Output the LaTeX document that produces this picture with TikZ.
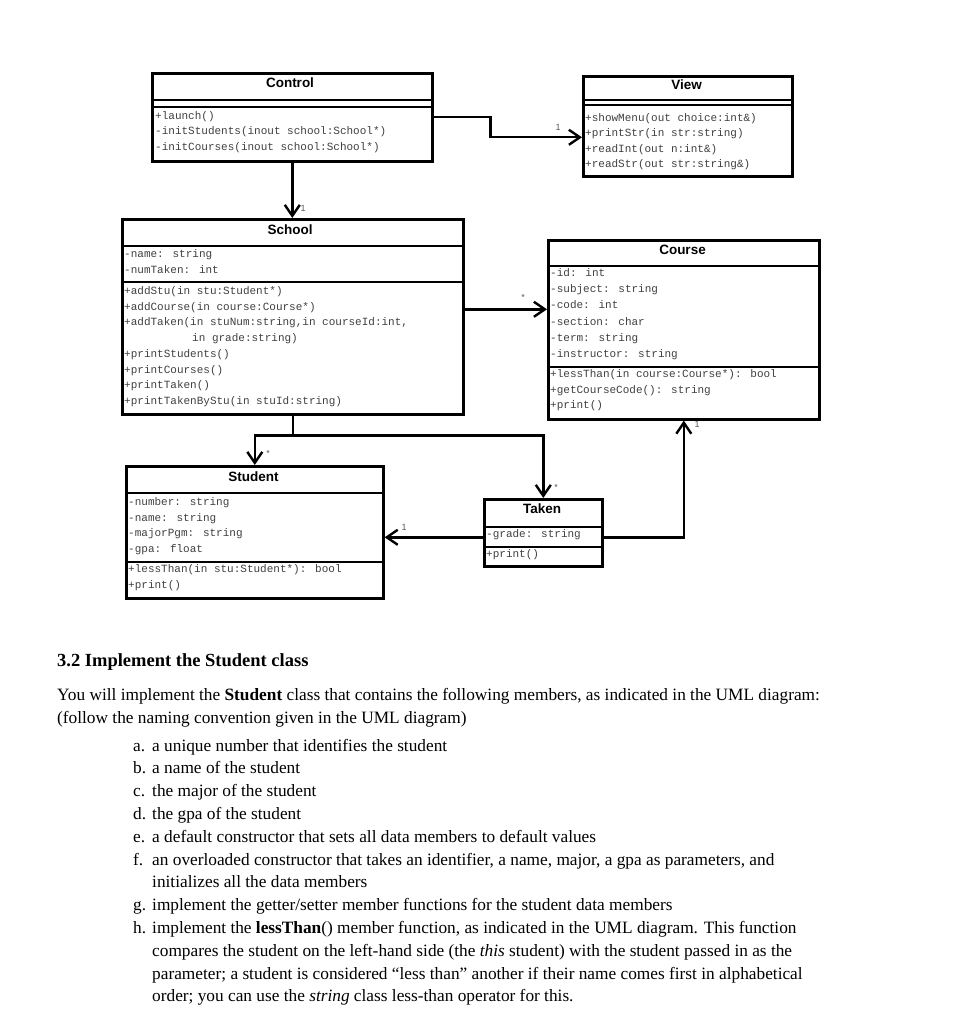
\documentclass[tikz,border=0pt]{standalone}
\usepackage{fontspec}
\setmainfont{Liberation Serif}
\newfontfamily\umlsans{Liberation Sans}
\newfontfamily\umlmono{Liberation Mono}
\usetikzlibrary{arrows.meta,calc}
\begin{document}
\begin{tikzpicture}[x=1pt,y=-1pt,
  classbox/.style={draw, line width=2.6pt, inner sep=0, anchor=north west},
  sepline/.style={line width=2.4pt},
  title/.style={font=\umlsans\bfseries\fontsize{13.5}{16}\selectfont, anchor=base, inner sep=0},
  mono/.style={font=\umlmono\fontsize{11}{12}\selectfont, text=black!75, anchor=base west, inner sep=0},
  mult/.style={font=\umlsans\fontsize{9}{10}\selectfont, text=black!65, inner sep=0},
  assoc/.style={line width=2.4pt, -{Straight Barb[length=11pt,width=15pt]}},
  wire/.style={line width=2.4pt},
  body/.style={font=\fontsize{17.3}{21}\selectfont, anchor=base west, inner sep=0},
  lbl/.style={font=\fontsize{17.3}{21}\selectfont, anchor=base west, inner sep=0}]
\fill[white] (0,0) rectangle (977,1024);
\useasboundingbox (0,0) rectangle (977,1024);

% ---------- Control ----------
\node[classbox, minimum width=280pt, minimum height=88pt] (control) at (151,72) {};
\draw[sepline] (control.west |- 0,100) -- (control.east |- 0,100);
\draw[sepline] (control.west |- 0,107) -- (control.east |- 0,107);
\node[title] (control-t) at (290,88) {Control};
\foreach \t [count=\i from 0] in {{+launch()},{-initStudents(inout school:School*)},{-initCourses(inout school:School*)}}
  \node[mono] (control-op\i) at (155,119.5+15.5*\i) {\t};

% ---------- View ----------
\node[classbox, minimum width=209pt, minimum height=100pt] (view) at (582,75) {};
\draw[sepline] (view.west |- 0,100) -- (view.east |- 0,100);
\draw[sepline] (view.west |- 0,105) -- (view.east |- 0,105);
\node[title] (view-t) at (686.5,90) {View};
\foreach \t [count=\i from 0] in {{+showMenu(out choice:int\&)},{+printStr(in str:string)},{+readInt(out n:int\&)},{+readStr(out str:string\&)}}
  \node[mono] (view-op\i) at (585,121.5+15.5*\i) {\t};

% ---------- School ----------
\node[classbox, minimum width=341pt, minimum height=195pt] (school) at (121,218) {};
\draw[sepline] (school.west |- 0,246) -- (school.east |- 0,246);
\draw[sepline] (school.west |- 0,282) -- (school.east |- 0,282);
\node[title] (school-t) at (290,234) {School};
\foreach \t [count=\i from 0] in {{-name: string},{-numTaken: int}}
  \node[mono] (school-at\i) at (124,257.5+16*\i) {\t};
\foreach \t [count=\i from 0] in {{+addStu(in stu:Student*)},{+addCourse(in course:Course*)},{+addTaken(in stuNum:string,in courseId:int,}}
  \node[mono] (school-op\i) at (124,294.5+15.7*\i) {\t};
\node[mono] (school-op3) at (192,341.6) {in grade:string)};
\foreach \t [count=\i from 4] in {{+printStudents()},{+printCourses()},{+printTaken()},{+printTakenByStu(in stuId:string)}}
  \node[mono] (school-op\i) at (124,294.5+15.7*\i) {\t};

% ---------- Course ----------
\node[classbox, minimum width=271pt, minimum height=179pt] (course) at (547,239) {};
\draw[sepline] (course.west |- 0,266) -- (course.east |- 0,266);
\draw[sepline] (course.west |- 0,367) -- (course.east |- 0,367);
\node[title] (course-t) at (682.5,254) {Course};
\foreach \t [count=\i from 0] in {{-id: int},{-subject: string},{-code: int},{-section: char},{-term: string},{-instructor: string}}
  \node[mono] (course-at\i) at (550,276.5+16.2*\i) {\t};
\foreach \t [count=\i from 0] in {{+lessThan(in course:Course*): bool},{+getCourseCode(): string},{+print()}}
  \node[mono] (course-op\i) at (550,377.5+15.5*\i) {\t};

% ---------- Student ----------
\node[classbox, minimum width=257pt, minimum height=132pt] (student) at (125,465) {};
\draw[sepline] (student.west |- 0,493) -- (student.east |- 0,493);
\draw[sepline] (student.west |- 0,562) -- (student.east |- 0,562);
\node[title] (student-t) at (253.5,481) {Student};
\foreach \t [count=\i from 0] in {{-number: string},{-name: string},{-majorPgm: string},{-gpa: float}}
  \node[mono] (student-at\i) at (128,505.5+15.7*\i) {\t};
\foreach \t [count=\i from 0] in {{+lessThan(in stu:Student*): bool},{+print()}}
  \node[mono] (student-op\i) at (128,572.5+16*\i) {\t};

% ---------- Taken ----------
\node[classbox, minimum width=118pt, minimum height=67pt] (taken) at (483,498) {};
\draw[sepline] (taken.west |- 0,527) -- (taken.east |- 0,527);
\draw[sepline] (taken.west |- 0,547) -- (taken.east |- 0,547);
\node[title] (taken-t) at (542,513) {Taken};
\node[mono] (taken-at0) at (486,537.5) {-grade: string};
\node[mono] (taken-op0) at (486,557.5) {+print()};

% ---------- Connectors ----------
\draw[assoc] (control.east) -- ++(57,0) |- ([yshift=-11pt]view.west);
\node[mult] (m-cv) at (558,127) {1};
\draw[assoc] (control.south) -- (control.south |- school.north);
\node[mult] (m-cs) at (303,208) {1};
\draw[assoc] ([yshift=7.5pt]school.east) -- ([yshift=7.5pt]school.east -| course.west);
\node[mult] (m-sc) at (523,297) {*};
\coordinate (jn) at ($(school.south)+(0,20)$);
\draw[wire] (school.south) -- (jn);
\draw[assoc] (jn) -| (taken.north);
\draw[assoc] (jn) -| (student.north);
\node[mult] (m-ss) at (268,453) {*};
\node[mult] (m-st) at (556,487) {*};
\draw[assoc] ([yshift=-4.5pt]taken.east) -| (course.south);
\node[mult] (m-tc) at (697,424) {1};
\draw[assoc] ([yshift=-4.5pt]taken.west) -- ([yshift=-4.5pt]taken.west -| student.east);
\node[mult] (m-ts) at (404,527) {1};

% ---------- Text ----------
\node[body, font=\bfseries\fontsize{18.5}{22}\selectfont] (heading) at (57,666) {3.2 Implement the Student class};
\node[body] (intro1) at (57,700) {You will implement the \textbf{Student} class that contains the following members, as indicated in the UML diagram:};
\node[body] (intro2) at (57,723) {(follow the naming convention given in the UML diagram)};
\foreach \l/\yy [count=\i from 0] in {a./751, b./773.8, c./796.6, d./819.4, e./842.2, f./865, g./910.6, h./933.4}
  \node[lbl] (lab\i) at (133,\yy) {\l};
\node[body] (it-a) at (152,751) {a unique number that identifies the student};
\node[body] (it-b) at (152,773.8) {a name of the student};
\node[body] (it-c) at (152,796.6) {the major of the student};
\node[body] (it-d) at (152,819.4) {the gpa of the student};
\node[body] (it-e) at (152,842.2) {a default constructor that sets all data members to default values};
\node[body] (it-f1) at (152,865) {an overloaded constructor that takes an identifier, a name, major, a gpa as parameters, and};
\node[body] (it-f2) at (152,887.8) {initializes all the data members};
\node[body] (it-g) at (152,910.6) {implement the getter/setter member functions for the student data members};
\node[body] (it-h1) at (152,933.4) {implement the \textbf{lessThan}() member function, as indicated in the UML diagram. This function};
\node[body] (it-h2) at (152,956.2) {compares the student on the left-hand side (the \textit{this} student) with the student passed in as the};
\node[body] (it-h3) at (152,979) {parameter; a student is considered “less than” another if their name comes first in alphabetical};
\node[body] (it-h4) at (152,1001.8) {order; you can use the \textit{string} class less-than operator for this.};
\end{tikzpicture}
\end{document}
